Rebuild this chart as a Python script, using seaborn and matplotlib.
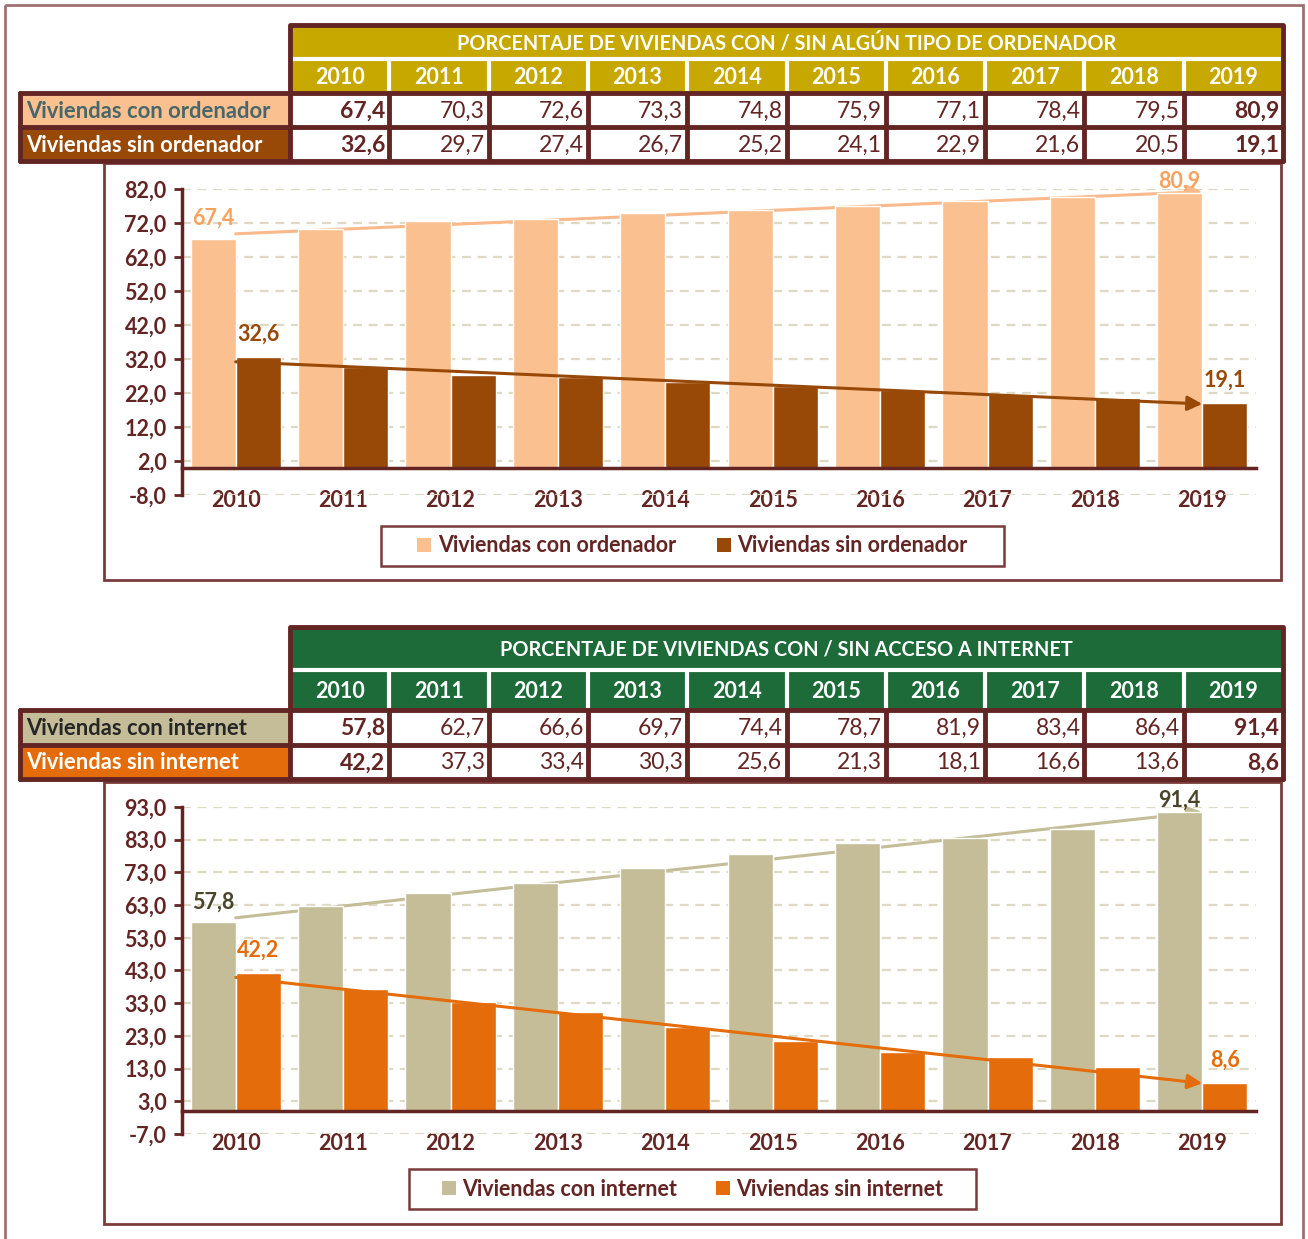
import numpy as np
import pandas as pd
import matplotlib
matplotlib.use("Agg")
import matplotlib.pyplot as plt
from matplotlib.patches import Rectangle, Patch
import seaborn as sns

# datos
years = ['2010', '2011', '2012', '2013', '2014', '2015', '2016', '2017', '2018', '2019']
ordenador_con = [67.4, 70.3, 72.6, 73.3, 74.8, 75.9, 77.1, 78.4, 79.5, 80.9]
ordenador_sin = [32.6, 29.7, 27.4, 26.7, 25.2, 24.1, 22.9, 21.6, 20.5, 19.1]
internet_con = [57.8, 62.7, 66.6, 69.7, 74.4, 78.7, 81.9, 83.4, 86.4, 91.4]
internet_sin = [42.2, 37.3, 33.4, 30.3, 25.6, 21.3, 18.1, 16.6, 13.6, 8.6]

titulo_1 = 'PORCENTAJE DE VIVIENDAS CON / SIN ALGÚN TIPO DE ORDENADOR'
titulo_2 = 'PORCENTAJE DE VIVIENDAS CON / SIN ACCESO A INTERNET'
series_1 = ['Viviendas con ordenador', 'Viviendas sin ordenador']
series_2 = ['Viviendas con internet', 'Viviendas sin internet']
yticks_1 = np.arange(-8, 83, 10)
yticks_2 = np.arange(-7, 94, 10)

# colores
BORDE = '#632523'
TEXTO = '#632523'
GRID = '#DDD9C3'
FS = 15.5

sns.set_theme(style="white")
plt.rcParams['font.family'] = ['Lato', 'DejaVu Sans']

W, H = 1308, 1239
fig = plt.figure(figsize=(W / 100, H / 100), dpi=100)
fig.patch.set_facecolor('white')

# capa de fondo en pixeles para tablas y marcos
bg = fig.add_axes([0, 0, 1, 1], zorder=0)
bg.set_xlim(0, W)
bg.set_ylim(H, 0)
bg.axis('off')


def coma(v, fmt='{:.1f}'):
    return fmt.format(v).replace('.', ',')


def dibujar_tabla(top, h_tit, h_year, h_row, titulo, color_cab, etiquetas, fondos, colores_txt, filas):
    x0, xl, x1 = 20, 290, 1283
    colw = (x1 - xl) / len(years)
    y_year = top + h_tit
    y_r0 = y_year + h_year
    # cabecera
    bg.add_patch(Rectangle((xl, top), x1 - xl, h_tit + h_year, facecolor=color_cab, edgecolor='none'))
    bg.text((xl + x1) / 2, top + h_tit / 2 + 1, titulo, ha='center', va='center',
            color='white', fontsize=14.3, fontweight='bold')
    bg.plot([xl, x1], [y_year, y_year], color='white', lw=3)
    for i, yr in enumerate(years):
        cx = xl + colw * (i + 0.5)
        bg.text(cx, y_year + h_year / 2 + 2, yr, ha='center', va='center',
                color='white', fontsize=FS, fontweight='bold')
        if i > 0:
            bg.plot([xl + colw * i] * 2, [y_year, y_r0], color='white', lw=3)
    bg.plot([xl, xl, x1, x1], [y_r0, top, top, y_r0], color=BORDE, lw=3.5)
    # filas
    for r, (lab, fc, tc, vals) in enumerate(zip(etiquetas, fondos, colores_txt, filas)):
        yt = y_r0 + r * h_row
        bg.add_patch(Rectangle((x0, yt), xl - x0, h_row, facecolor=fc, edgecolor='none'))
        bg.text(x0 + 6, yt + h_row / 2 + 1, lab, ha='left', va='center',
                color=tc, fontsize=FS + 0.3, fontweight='bold')
        for i, v in enumerate(vals):
            bold = i in (0, len(vals) - 1)
            bg.text(xl + colw * (i + 1) - 4, yt + h_row / 2 + 1, coma(v), ha='right', va='center',
                    color=TEXTO, fontsize=16.5, fontweight='bold' if bold else 'normal')
    y_end = y_r0 + h_row * len(filas)
    for yy in [y_r0 + h_row * k for k in range(len(filas) + 1)]:
        bg.plot([x0, x1], [yy, yy], color=BORDE, lw=3.5)
    for xx in [x0] + [xl + colw * k for k in range(len(years) + 1)]:
        bg.plot([xx, xx], [y_r0, y_end], color=BORDE, lw=3.5)


def dibujar_grafico(rect, con, sin, nombres, colores, colores_lab, yticks, caja, caja_leyenda, colsp):
    # marco del grafico
    bx0, by0, bx1, by1 = caja
    bg.add_patch(Rectangle((bx0, by0), bx1 - bx0, by1 - by0, facecolor='none',
                           edgecolor='#7A3B3B', lw=2))
    ax = fig.add_axes(rect, zorder=2)
    ax.set_facecolor('none')
    df = pd.DataFrame({
        'year': years * 2,
        'valor': list(con) + list(sin),
        'serie': [nombres[0]] * len(years) + [nombres[1]] * len(years),
    })
    sns.barplot(data=df, x='year', y='valor', hue='serie', palette=colores, width=0.84,
                saturation=1, legend=False, ax=ax, errorbar=None, zorder=1)
    ax.set_xlim(-0.5, len(years) - 0.5)
    ax.set_ylim(yticks[0], yticks[-1])
    ax.set_yticks(yticks)
    ax.set_yticklabels([coma(t) for t in yticks])
    ax.set_xlabel('')
    ax.set_ylabel('')
    ax.yaxis.grid(True, linestyle=(0, (4, 3)), color=GRID, lw=1.6)
    ax.set_axisbelow(True)
    for s in ['top', 'right']:
        ax.spines[s].set_visible(False)
    ax.spines['bottom'].set_position(('data', 0))
    for s in ['left', 'bottom']:
        ax.spines[s].set_color(BORDE)
        ax.spines[s].set_linewidth(2.5)
    ax.set_xticks(np.arange(-0.5, len(years), 1), minor=True)
    ax.tick_params(axis='x', which='major', length=0, pad=16, labelsize=FS, labelcolor=TEXTO)
    ax.tick_params(axis='x', which='minor', length=6, width=2, color=BORDE, direction='out')
    ax.tick_params(axis='y', length=6, width=2, color=BORDE, direction='out', pad=5,
                   labelsize=FS, labelcolor=TEXTO, left=True)
    for t in ax.get_xticklabels() + ax.get_yticklabels():
        t.set_fontweight('bold')

    # lineas de tendencia
    x = np.arange(len(years))
    for k, vals in enumerate([con, sin]):
        p = np.polyfit(x, vals, 1)
        ax.annotate('', xy=(x[-1], np.polyval(p, x[-1])), xytext=(x[0], np.polyval(p, x[0])),
                    arrowprops=dict(arrowstyle='-|>', color=colores[k] if k else colores_lab[2],
                                    lw=2.2, mutation_scale=22, shrinkA=0, shrinkB=0),
                    zorder=0.9 if k == 0 else 3)

    # etiquetas de primer y ultimo valor
    off = 0.21
    ax.annotate(coma(con[0]), (x[0] - off, con[0]), xytext=(0, 7), textcoords='offset points',
                ha='center', va='bottom', color=colores_lab[0], fontsize=FS, fontweight='bold', zorder=4)
    ax.annotate(coma(con[-1]), (x[-1] - off, con[-1]), xytext=(0, 1), textcoords='offset points',
                ha='center', va='bottom', color=colores_lab[0], fontsize=FS, fontweight='bold', zorder=4)
    for i in (0, -1):
        ax.annotate(coma(sin[i]), (x[i] + off, sin[i]), xytext=(0, 9), textcoords='offset points',
                    ha='center', va='bottom', color=colores_lab[1], fontsize=FS, fontweight='bold', zorder=4)

    # leyenda con marco propio
    lx0, ly0, lx1, ly1 = caja_leyenda
    bg.add_patch(Rectangle((lx0, ly0), lx1 - lx0, ly1 - ly0, facecolor='white',
                           edgecolor='#7A3B3B', lw=1.8))
    handles = [Patch(facecolor=c, edgecolor='none') for c in colores]
    fig.legend(handles, nombres, loc='center',
               bbox_to_anchor=((lx0 + lx1) / 2 / W, 1 - (ly0 + ly1) / 2 / H),
               ncol=2, frameon=False,
               handlelength=0.65, handleheight=0.65, handletextpad=0.3, columnspacing=colsp,
               borderpad=0, borderaxespad=0, prop={'weight': 'bold', 'size': FS},
               labelcolor=TEXTO)
    return ax


# borde exterior
bg.add_patch(Rectangle((5, 5), 1298, 1260, facecolor='none', edgecolor='#A07070', lw=2))

# bloque 1: ordenador
dibujar_tabla(25, 34, 34, 34, titulo_1, '#C6A800', series_1,
              ['#FAC090', '#984807'], ['#47676A', 'white'], [ordenador_con, ordenador_sin])
dibujar_grafico([182 / W, 1 - 495 / H, 1074 / W, 306 / H], ordenador_con, ordenador_sin, series_1,
                ['#FAC090', '#984807'], ['#F7A25E', '#984807', '#F9B98A'], yticks_1,
                (104, 163, 1281, 580), (381, 526, 1004, 566), 1.9)

# bloque 2: internet
dibujar_tabla(627, 43, 40, 34.5, titulo_2, '#1E6B3A', series_2,
              ['#C4BD97', '#E46C0A'], ['#262626', 'white'], [internet_con, internet_sin])
dibujar_grafico([182 / W, 1 - 1134 / H, 1074 / W, 327 / H], internet_con, internet_sin, series_2,
                ['#C4BD97', '#E46C0A'], ['#4A452A', '#E46C0A', '#C4BD97'], yticks_2,
                (104, 782, 1281, 1224), (409, 1169, 976, 1209), 1.8)

fig.savefig('out.png', dpi=100)
